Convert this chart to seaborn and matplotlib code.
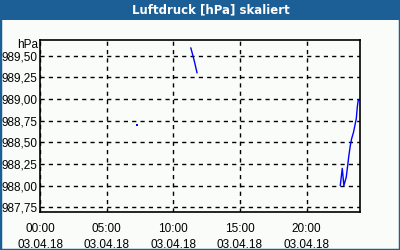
import matplotlib
matplotlib.use("Agg")
import matplotlib.pyplot as plt
import seaborn as sns
import pandas as pd
import numpy as np
from matplotlib.ticker import FixedLocator, MultipleLocator, FuncFormatter
from matplotlib.patches import Rectangle

# Data (hours since 03.04.18 00:00, pressure hPa)
seg1_hours = [11.31, 11.45, 11.60, 11.78]
seg1_values = [989.59, 989.51, 989.42, 989.30]
seg2_hours = [22.52, 22.67, 22.79, 22.97, 23.09, 23.15, 23.27, 23.37, 23.52, 23.65, 23.72, 23.80, 23.87, 23.92]
seg2_values = [988.00, 988.20, 988.00, 988.10, 988.25, 988.33, 988.46, 988.54, 988.62, 988.72, 988.77, 988.91, 988.99, 988.99]
dot_hours = [7.24]
dot_values = [988.70]

x_ticks = [0, 5, 10, 15, 20]
x_tick_labels = ["00:00\n03.04.18", "05:00\n03.04.18", "10:00\n03.04.18", "15:00\n03.04.18", "20:00\n03.04.18"]
y_ticks = [987.75, 988.00, 988.25, 988.50, 988.75, 989.00, 989.25, 989.50]
title = "Luftdruck [hPa] skaliert"
unit_label = "hPa"

df = pd.DataFrame({
    "h": seg1_hours + seg2_hours,
    "v": seg1_values + seg2_values,
    "seg": [1] * len(seg1_hours) + [2] * len(seg2_hours),
})
dots = pd.DataFrame({"h": dot_hours, "v": dot_values})

sns.set_style("white")
plt.rcParams["font.family"] = ["Liberation Sans", "DejaVu Sans"]

bg = "#f9fcf9"
blue_frame = "#1c5f96"
fig = plt.figure(figsize=(4, 2.5), dpi=100, facecolor=bg)

# frame and title bar
fig.patches.append(Rectangle((0, 0), 1, 1, transform=fig.transFigure, fill=False,
                             edgecolor=blue_frame, linewidth=2.5, zorder=0))
fig.patches.append(Rectangle((0, 1 - 20 / 250), 1, 20 / 250, transform=fig.transFigure,
                             facecolor=blue_frame, edgecolor="none", zorder=1))
fig.text(211 / 400, 1 - 10 / 250, title, color="white", fontsize=8.5, fontweight="bold",
         ha="center", va="center", family=["DejaVu Sans"])

ax = fig.add_axes([40 / 400, 1 - 211.7 / 250, 320 / 400, (211.7 - 40) / 250])
ax.set_facecolor(bg)

sns.lineplot(data=df, x="h", y="v", units="seg", estimator=None, color="#0000ff",
             linewidth=1.0, ax=ax, legend=False)
sns.scatterplot(data=dots, x="h", y="v", color="#0000ff", marker="s", s=3,
                linewidth=0, ax=ax, legend=False)

ax.set_xlim(0, 24)
ax.set_ylim(987.70, 989.68)
ax.xaxis.set_major_locator(FixedLocator(x_ticks))
ax.set_xticklabels(x_tick_labels, fontsize=8.5, linespacing=1.45, color="black")
ax.xaxis.set_minor_locator(MultipleLocator(1))
ax.yaxis.set_major_locator(FixedLocator(y_ticks))
ax.yaxis.set_major_formatter(FuncFormatter(lambda v, p: f"{v:.2f}".replace(".", ",")))
ax.tick_params(axis="y", labelsize=8.5, length=0, pad=2, labelcolor="black")
ax.tick_params(axis="x", which="major", length=4, width=1, direction="out", pad=4, color="black")
ax.tick_params(axis="x", which="minor", length=3, width=1, direction="out", color="black")
ax.set_xlabel("")
ax.set_ylabel("")
ax.grid(True, which="major", color="black", linestyle=(0, (3, 3)), linewidth=1)
for s in ax.spines.values():
    s.set_color("black")
    s.set_linewidth(1.2)
    s.set_visible(True)

fig.text(38 / 400, 1 - 45 / 250, unit_label, fontsize=8.5, ha="right", va="center", color="black")

fig.savefig("out.png", dpi=100, facecolor=bg)
